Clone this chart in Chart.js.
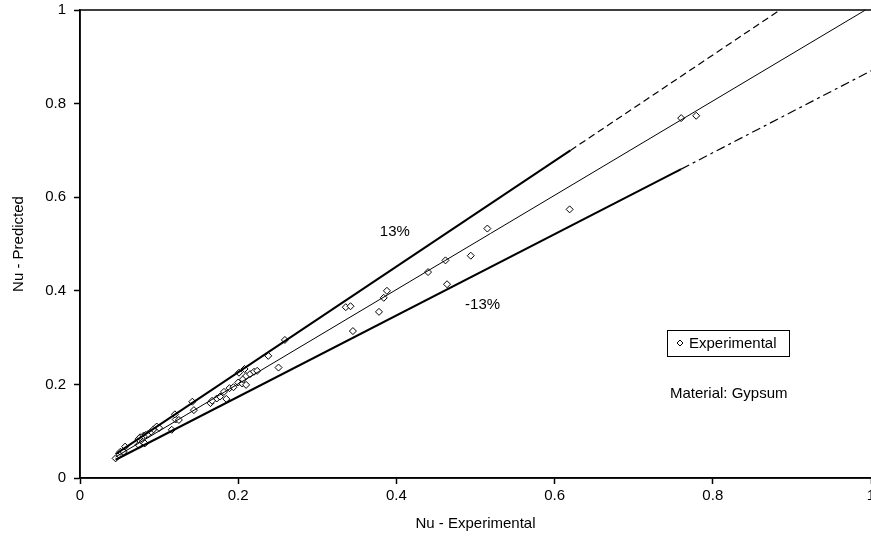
<!DOCTYPE html>
<html>
<head>
<meta charset="utf-8">
<script src="https://cdn.jsdelivr.net/npm/chart.js@4.4.0/dist/chart.umd.min.js"></script>
<style>
  html, body { margin: 0; padding: 0; background: #fff; }
  #wrap { width: 871px; height: 538px; }
</style>
</head>
<body>
<div id="wrap"><canvas id="chart"></canvas></div>
<script>
// experimental vs predicted Nusselt numbers
const expX = [0.045, 0.051, 0.055, 0.057, 0.074, 0.082, 0.074, 0.076, 0.080, 0.083,
  0.086, 0.090, 0.093, 0.097, 0.100, 0.116, 0.121, 0.125, 0.120, 0.142,
  0.144, 0.165, 0.167, 0.173, 0.177, 0.185, 0.182, 0.189, 0.194, 0.200,
  0.205, 0.210, 0.206, 0.210, 0.215, 0.220, 0.224, 0.201, 0.208, 0.251,
  0.238, 0.259, 0.336, 0.342, 0.345, 0.378, 0.384, 0.388, 0.440, 0.462,
  0.464, 0.494, 0.515, 0.619, 0.760, 0.779];
const predY = [0.042, 0.056, 0.056, 0.067, 0.071, 0.074, 0.083, 0.087, 0.090, 0.092,
  0.094, 0.099, 0.104, 0.110, 0.107, 0.103, 0.125, 0.124, 0.136, 0.163,
  0.145, 0.160, 0.165, 0.170, 0.174, 0.169, 0.184, 0.192, 0.194, 0.204,
  0.202, 0.199, 0.211, 0.218, 0.222, 0.227, 0.229, 0.225, 0.233, 0.236,
  0.261, 0.295, 0.365, 0.367, 0.314, 0.355, 0.385, 0.400, 0.440, 0.465,
  0.414, 0.475, 0.533, 0.574, 0.769, 0.774];

// reference lines (end points)
const equalX = [0.045, 0.993];
const equalY = [0.045, 1.0];
const upperSolidX = [0.045, 0.62];
const upperSolidY = [0.051, 0.70];
const upperDashX = [0.62, 0.885];
const upperDashY = [0.70, 1.0];
const lowerSolidX = [0.045, 0.76];
const lowerSolidY = [0.039, 0.66];
const lowerDashX = [0.76, 1.0];
const lowerDashY = [0.66, 0.87];

const tickValues = [0, 0.2, 0.4, 0.6, 0.8, 1];

const pts = (xs, ys) => xs.map((x, i) => ({ x: x, y: ys[i] }));
const FONT = "'Liberation Sans', Arial, sans-serif";

function lineSet(xs, ys, width, dash) {
  return {
    type: 'scatter', data: pts(xs, ys), showLine: true,
    borderColor: '#000', borderWidth: width, borderDash: dash || [],
    pointRadius: 0, fill: false, clip: false
  };
}

const extras = {
  id: 'extras',
  afterDraw(chart) {
    const ctx = chart.ctx, a = chart.chartArea;
    const xs = chart.scales.x, ys = chart.scales.y;
    ctx.save();
    // frame
    ctx.strokeStyle = '#000';
    ctx.lineWidth = 1.5;
    ctx.strokeRect(a.left, a.top, a.right - a.left + 2, a.bottom - a.top);
    // labels
    ctx.fillStyle = '#000';
    ctx.font = '15px ' + FONT;
    ctx.textAlign = 'center';
    ctx.textBaseline = 'middle';
    ctx.fillText('13%', xs.getPixelForValue(0.398), ys.getPixelForValue(0.526));
    ctx.fillText('-13%', xs.getPixelForValue(0.509), ys.getPixelForValue(0.370));
    // legend box
    ctx.lineWidth = 1;
    ctx.strokeRect(667.5, 330.5, 122, 26);
    ctx.beginPath();
    ctx.moveTo(680, 340); ctx.lineTo(683, 343); ctx.lineTo(680, 346); ctx.lineTo(677, 343); ctx.closePath();
    ctx.stroke();
    ctx.textAlign = 'left';
    ctx.fillText('Experimental', 689, 344);
    ctx.fillText('Material: Gypsum', 670, 394);
    ctx.restore();
  }
};

new Chart(document.getElementById('chart'), {
  data: {
    datasets: [
      lineSet(equalX, equalY, 1),
      lineSet(upperSolidX, upperSolidY, 2),
      lineSet(upperDashX, upperDashY, 1.2, [7, 4]),
      lineSet(lowerSolidX, lowerSolidY, 2),
      lineSet(lowerDashX, lowerDashY, 1.2, [9, 4, 3, 4]),
      {
        type: 'scatter', label: 'Experimental', data: pts(expX, predY),
        pointStyle: 'rectRot', pointRadius: 3.5, pointBorderWidth: 1,
        pointBackgroundColor: '#fff', pointBorderColor: '#000'
      }
    ]
  },
  options: {
    responsive: true,
    maintainAspectRatio: false,
    animation: false,
    events: [],
    layout: { autoPadding: false, padding: { top: 10, right: 0, left: 0, bottom: 0 } },
    plugins: { legend: { display: false }, tooltip: { enabled: false } },
    scales: {
      x: {
        type: 'linear', min: 0, max: 1,
        afterBuildTicks: s => { s.ticks = tickValues.map(v => ({ value: v })); },
        afterFit: s => { s.height = 60; s.paddingRight = 0; s.paddingLeft = 0; },
        grid: { drawOnChartArea: false, tickLength: 6, color: '#000', tickWidth: 1.5 },
        border: { color: '#000', width: 1.5 },
        ticks: { color: '#000', font: { family: FONT, size: 15 }, padding: 3, maxRotation: 0,
          callback: v => String(v) },
        title: { display: true, text: 'Nu - Experimental', color: '#000',
          font: { family: FONT, size: 15 }, padding: { top: 0, bottom: 5 } }
      },
      y: {
        type: 'linear', min: 0, max: 1,
        afterBuildTicks: s => { s.ticks = tickValues.map(v => ({ value: v })); },
        afterFit: s => { s.width = 80; s.paddingTop = 0; s.paddingBottom = 0; },
        grid: { drawOnChartArea: false, tickLength: 6, color: '#000', tickWidth: 1.5 },
        border: { color: '#000', width: 1.5 },
        ticks: { color: '#000', font: { family: FONT, size: 15 }, padding: 8,
          callback: v => String(v) },
        title: { display: true, text: 'Nu - Predicted', color: '#000',
          font: { family: FONT, size: 15 }, padding: { top: 10, bottom: 0 } }
      }
    }
  },
  plugins: [extras]
});
</script>
</body>
</html>
